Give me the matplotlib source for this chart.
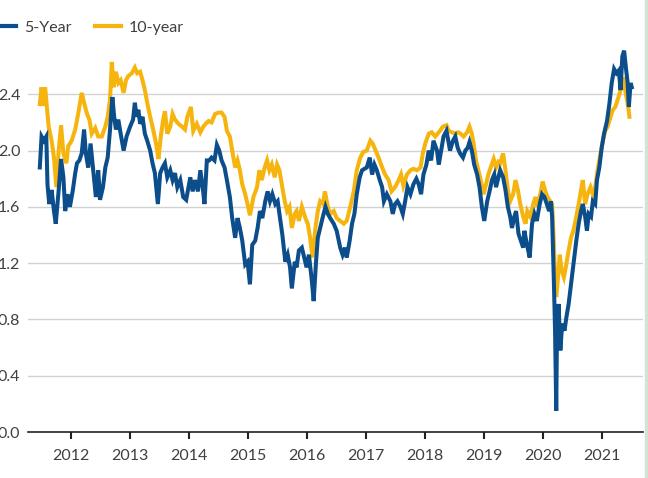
import matplotlib
matplotlib.use("Agg")
import matplotlib.pyplot as plt
from matplotlib.patches import Rectangle

# ---- data (decimal year, yield %) ----
ten_year_t = [2011.47, 2011.50, 2011.53, 2011.56, 2011.59, 2011.62, 2011.67, 2011.71, 2011.75, 2011.79,
              2011.83, 2011.87, 2011.92, 2011.95, 2012.01, 2012.07, 2012.12, 2012.18, 2012.22, 2012.27,
              2012.31, 2012.35, 2012.41, 2012.46, 2012.52, 2012.58, 2012.62, 2012.66, 2012.69, 2012.72,
              2012.76, 2012.80, 2012.84, 2012.89, 2012.93, 2012.97, 2013.03, 2013.08, 2013.12, 2013.17,
              2013.21, 2013.25, 2013.29, 2013.34, 2013.39, 2013.44, 2013.48, 2013.52, 2013.56, 2013.59,
              2013.63, 2013.68, 2013.72, 2013.76, 2013.82, 2013.88, 2013.93, 2013.97, 2014.03, 2014.07,
              2014.13, 2014.19, 2014.24, 2014.28, 2014.33, 2014.38, 2014.44, 2014.50, 2014.55, 2014.60,
              2014.64, 2014.69, 2014.73, 2014.78, 2014.82, 2014.86, 2014.90, 2014.95, 2015.00, 2015.03,
              2015.09, 2015.15, 2015.19, 2015.23, 2015.28, 2015.32, 2015.36, 2015.40, 2015.45, 2015.49,
              2015.53, 2015.57, 2015.62, 2015.66, 2015.70, 2015.74, 2015.79, 2015.82, 2015.86, 2015.91,
              2015.97, 2016.01, 2016.05, 2016.09, 2016.14, 2016.18, 2016.22, 2016.27, 2016.30, 2016.35,
              2016.39, 2016.45, 2016.50, 2016.56, 2016.62, 2016.67, 2016.73, 2016.79, 2016.84, 2016.90,
              2016.95, 2017.01, 2017.07, 2017.11, 2017.15, 2017.21, 2017.27, 2017.32, 2017.38, 2017.43,
              2017.49, 2017.55, 2017.59, 2017.63, 2017.69, 2017.75, 2017.80, 2017.86, 2017.92, 2017.96,
              2018.00, 2018.06, 2018.11, 2018.17, 2018.21, 2018.25, 2018.30, 2018.36, 2018.40, 2018.45,
              2018.51, 2018.56, 2018.60, 2018.65, 2018.71, 2018.75, 2018.79, 2018.82, 2018.86, 2018.90,
              2018.94, 2018.99, 2019.03, 2019.07, 2019.11, 2019.16, 2019.20, 2019.24, 2019.27, 2019.32,
              2019.36, 2019.40, 2019.44, 2019.49, 2019.53, 2019.57, 2019.61, 2019.66, 2019.70, 2019.73,
              2019.78, 2019.83, 2019.87, 2019.90, 2019.95, 2019.99, 2020.03, 2020.07, 2020.12, 2020.15,
              2020.18, 2020.20, 2020.22, 2020.24, 2020.28, 2020.31, 2020.35, 2020.39, 2020.43, 2020.47,
              2020.51, 2020.56, 2020.60, 2020.64, 2020.67, 2020.71, 2020.75, 2020.80, 2020.84, 2020.88,
              2020.92, 2020.97, 2021.01, 2021.05, 2021.09, 2021.14, 2021.18, 2021.22, 2021.26, 2021.31,
              2021.35, 2021.38, 2021.41, 2021.44, 2021.46]
ten_year_v = [2.33, 2.45, 2.32, 2.45, 2.31, 2.17, 2.07, 1.95, 1.74, 2.00,
              2.18, 1.98, 1.91, 2.03, 2.07, 2.15, 2.26, 2.41, 2.34, 2.26,
              2.22, 2.12, 2.16, 2.10, 2.10, 2.17, 2.24, 2.36, 2.63, 2.45,
              2.56, 2.48, 2.50, 2.41, 2.50, 2.53, 2.55, 2.59, 2.55, 2.56,
              2.50, 2.43, 2.34, 2.24, 2.15, 2.05, 1.94, 2.10, 2.22, 2.28,
              2.12, 2.17, 2.26, 2.22, 2.19, 2.17, 2.15, 2.24, 2.31, 2.14,
              2.19, 2.13, 2.17, 2.19, 2.21, 2.20, 2.26, 2.27, 2.27, 2.24,
              2.14, 2.10, 2.00, 1.88, 1.93, 1.86, 1.76, 1.69, 1.60, 1.54,
              1.67, 1.74, 1.86, 1.79, 1.88, 1.93, 1.86, 1.90, 1.81, 1.90,
              1.86, 1.76, 1.64, 1.57, 1.60, 1.45, 1.55, 1.57, 1.50, 1.60,
              1.52, 1.48, 1.38, 1.24, 1.45, 1.57, 1.64, 1.62, 1.71, 1.60,
              1.55, 1.57, 1.52, 1.50, 1.48, 1.50, 1.60, 1.71, 1.86, 1.95,
              1.99, 2.00, 2.07, 2.05, 2.01, 1.95, 1.88, 1.83, 1.79, 1.71,
              1.74, 1.79, 1.83, 1.75, 1.83, 1.86, 1.87, 1.86, 1.88, 1.98,
              2.05, 2.12, 2.13, 2.10, 2.12, 2.14, 2.17, 2.18, 2.14, 2.13,
              2.12, 2.13, 2.12, 2.10, 2.13, 2.17, 2.12, 2.05, 1.93, 1.86,
              1.79, 1.69, 1.76, 1.83, 1.88, 1.94, 1.88, 1.92, 1.91, 1.98,
              1.86, 1.72, 1.64, 1.69, 1.79, 1.72, 1.62, 1.53, 1.48, 1.57,
              1.53, 1.62, 1.67, 1.60, 1.69, 1.78, 1.72, 1.67, 1.64, 1.62,
              1.34, 1.10, 0.96, 1.05, 1.26, 1.15, 1.10, 1.19, 1.29, 1.38,
              1.43, 1.53, 1.62, 1.72, 1.79, 1.62, 1.69, 1.74, 1.69, 1.74,
              1.86, 1.98, 2.07, 2.14, 2.17, 2.24, 2.29, 2.31, 2.36, 2.43,
              2.52, 2.45, 2.38, 2.31, 2.24]

five_year_t = [2011.47, 2011.50, 2011.54, 2011.58, 2011.60, 2011.63, 2011.67, 2011.71, 2011.74, 2011.79,
               2011.83, 2011.87, 2011.90, 2011.94, 2011.98, 2012.03, 2012.07, 2012.10, 2012.14, 2012.18,
               2012.22, 2012.25, 2012.29, 2012.33, 2012.38, 2012.42, 2012.46, 2012.49, 2012.54, 2012.58,
               2012.62, 2012.66, 2012.70, 2012.73, 2012.76, 2012.80, 2012.84, 2012.89, 2012.94, 2013.00,
               2013.05, 2013.08, 2013.11, 2013.14, 2013.17, 2013.21, 2013.25, 2013.29, 2013.34, 2013.38,
               2013.42, 2013.47, 2013.51, 2013.55, 2013.59, 2013.63, 2013.68, 2013.72, 2013.76, 2013.80,
               2013.85, 2013.90, 2013.95, 2014.02, 2014.06, 2014.10, 2014.15, 2014.19, 2014.23, 2014.26,
               2014.30, 2014.34, 2014.38, 2014.43, 2014.47, 2014.51, 2014.55, 2014.60, 2014.64, 2014.69,
               2014.73, 2014.78, 2014.82, 2014.86, 2014.90, 2014.95, 2014.99, 2015.03, 2015.07, 2015.12,
               2015.16, 2015.20, 2015.24, 2015.29, 2015.33, 2015.37, 2015.41, 2015.46, 2015.50, 2015.54,
               2015.58, 2015.63, 2015.67, 2015.71, 2015.74, 2015.79, 2015.82, 2015.86, 2015.91, 2015.95,
               2015.99, 2016.03, 2016.08, 2016.11, 2016.15, 2016.18, 2016.22, 2016.26, 2016.31, 2016.35,
               2016.39, 2016.45, 2016.50, 2016.56, 2016.60, 2016.64, 2016.67, 2016.72, 2016.76, 2016.80,
               2016.84, 2016.89, 2016.93, 2016.97, 2017.01, 2017.06, 2017.10, 2017.14, 2017.18, 2017.23,
               2017.27, 2017.30, 2017.35, 2017.41, 2017.45, 2017.49, 2017.53, 2017.58, 2017.62, 2017.66,
               2017.70, 2017.75, 2017.80, 2017.85, 2017.89, 2017.93, 2017.97, 2018.02, 2018.06, 2018.10,
               2018.14, 2018.20, 2018.23, 2018.27, 2018.31, 2018.36, 2018.40, 2018.42, 2018.47, 2018.51,
               2018.55, 2018.59, 2018.64, 2018.68, 2018.72, 2018.75, 2018.79, 2018.83, 2018.88, 2018.92,
               2018.96, 2019.00, 2019.05, 2019.09, 2019.13, 2019.17, 2019.20, 2019.24, 2019.27, 2019.32,
               2019.36, 2019.40, 2019.44, 2019.47, 2019.51, 2019.54, 2019.58, 2019.62, 2019.66, 2019.68,
               2019.72, 2019.77, 2019.81, 2019.85, 2019.89, 2019.94, 2019.98, 2020.02, 2020.06, 2020.10,
               2020.13, 2020.15, 2020.18, 2020.20, 2020.22, 2020.23, 2020.26, 2020.29, 2020.32, 2020.36,
               2020.39, 2020.43, 2020.47, 2020.51, 2020.56, 2020.60, 2020.64, 2020.67, 2020.71, 2020.74,
               2020.77, 2020.81, 2020.84, 2020.88, 2020.91, 2020.95, 2020.99, 2021.03, 2021.08, 2021.12,
               2021.16, 2021.20, 2021.24, 2021.28, 2021.31, 2021.34, 2021.37, 2021.40, 2021.43, 2021.45,
               2021.48, 2021.50]
five_year_v = [1.88, 2.10, 2.07, 2.10, 1.76, 1.62, 1.72, 1.57, 1.48, 1.72,
               1.94, 1.81, 1.57, 1.69, 1.60, 1.72, 1.84, 1.91, 1.93, 1.98,
               2.15, 1.98, 1.88, 2.05, 1.84, 1.67, 1.86, 1.65, 1.74, 1.88,
               1.95, 2.15, 2.38, 2.24, 2.15, 2.22, 2.12, 2.00, 2.10, 2.17,
               2.22, 2.34, 2.24, 2.29, 2.19, 2.24, 2.12, 2.07, 2.00, 1.91,
               1.84, 1.62, 1.84, 1.88, 1.91, 1.81, 1.86, 1.79, 1.84, 1.74,
               1.79, 1.67, 1.65, 1.81, 1.71, 1.79, 1.71, 1.86, 1.74, 1.62,
               1.93, 1.93, 1.95, 1.93, 2.04, 2.00, 1.93, 1.88, 1.79, 1.67,
               1.52, 1.38, 1.52, 1.45, 1.36, 1.19, 1.21, 1.05, 1.33, 1.36,
               1.45, 1.57, 1.52, 1.64, 1.71, 1.64, 1.69, 1.62, 1.64, 1.52,
               1.40, 1.21, 1.26, 1.17, 1.02, 1.21, 1.17, 1.29, 1.31, 1.24,
               1.17, 1.26, 1.07, 0.93, 1.21, 1.38, 1.45, 1.52, 1.60, 1.55,
               1.52, 1.48, 1.43, 1.31, 1.26, 1.31, 1.24, 1.36, 1.48, 1.55,
               1.69, 1.81, 1.86, 1.87, 1.88, 1.95, 1.83, 1.90, 1.86, 1.79,
               1.74, 1.64, 1.69, 1.64, 1.55, 1.62, 1.64, 1.60, 1.55, 1.64,
               1.74, 1.69, 1.76, 1.80, 1.76, 1.69, 1.83, 1.90, 2.00, 1.93,
               2.07, 2.00, 1.90, 2.00, 2.10, 2.14, 2.05, 2.00, 2.07, 2.10,
               2.02, 1.98, 1.95, 2.00, 2.02, 2.06, 2.00, 1.90, 1.83, 1.74,
               1.60, 1.50, 1.64, 1.71, 1.79, 1.83, 1.74, 1.81, 1.86, 1.81,
               1.72, 1.60, 1.53, 1.45, 1.53, 1.57, 1.41, 1.36, 1.31, 1.43,
               1.34, 1.24, 1.48, 1.55, 1.50, 1.62, 1.69, 1.67, 1.62, 1.57,
               1.64, 1.53, 1.07, 0.72, 0.15, 0.60, 0.91, 0.58, 0.77, 0.72,
               0.81, 0.91, 1.05, 1.19, 1.36, 1.48, 1.57, 1.62, 1.53, 1.43,
               1.55, 1.53, 1.64, 1.62, 1.79, 1.88, 2.02, 2.12, 2.21, 2.33,
               2.48, 2.58, 2.55, 2.57, 2.43, 2.67, 2.71, 2.59, 2.48, 2.31,
               2.48, 2.45]

year_ticks = [2012, 2013, 2014, 2015, 2016, 2017, 2018, 2019, 2020, 2021]
y_ticks = [0.0, 0.4, 0.8, 1.2, 1.6, 2.0, 2.4]
series_labels = ["5-Year", "10-year"]

BLUE = "#0b4e8b"
GOLD = "#f6b40e"
TEXT = "#404040"

plt.rcParams['font.family'] = ['Lato', 'DejaVu Sans']

fig = plt.figure(figsize=(6.48, 4.78), dpi=100)
ax = fig.add_axes([28/648, 46/478, (643-28)/648, (432-38)/478])

l10, = ax.plot(ten_year_t, ten_year_v, color=GOLD, lw=2.9, solid_joinstyle='miter')
l5, = ax.plot(five_year_t, five_year_v, color=BLUE, lw=2.9, solid_joinstyle='miter')

ax.set_xlim(2011.27, 2021.69)
ax.set_ylim(0, 2.8)
ax.set_xticks(year_ticks)
ax.set_xticklabels([str(y) for y in year_ticks])
ax.set_yticks(y_ticks)
ax.set_yticklabels([f"{v:.1f}" for v in y_ticks])

ax.grid(axis='y', color='#d2d2d2', lw=1.0)
ax.set_axisbelow(True)
for s in ['top', 'right', 'left']:
    ax.spines[s].set_visible(False)
ax.spines['bottom'].set_color('#222222')
ax.spines['bottom'].set_linewidth(1.2)
ax.tick_params(axis='x', length=5, width=1.5, color='#222222', pad=7,
               labelsize=11.5, labelcolor=TEXT)
ax.tick_params(axis='y', length=0, pad=5.5, labelsize=11.5, labelcolor=TEXT)

leg = fig.legend([l5, l10], series_labels, loc='center left',
                 bbox_to_anchor=(-16/648, 1 - 28/478), ncol=2, frameon=False,
                 fontsize=11.5, handlelength=1.6, handletextpad=0.5,
                 columnspacing=1.5, borderaxespad=0)
for t in leg.get_texts():
    t.set_color(TEXT)
for h in leg.get_lines():
    h.set_linewidth(3)

fig.patches.append(Rectangle((645/648, 0), 3/648, 1, transform=fig.transFigure,
                             color='#cfe6d4', zorder=10))

fig.savefig("out.png", dpi=100, facecolor='white')
